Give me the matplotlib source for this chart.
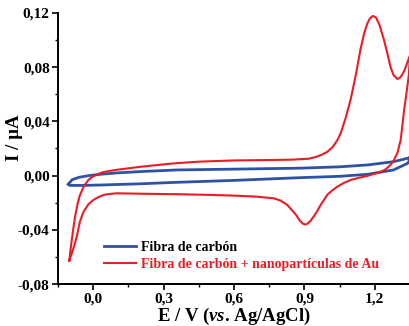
import numpy as np
import matplotlib
matplotlib.use("Agg")
import matplotlib.pyplot as plt
from matplotlib.ticker import MultipleLocator, FuncFormatter

plt.rcParams['font.family'] = ['Liberation Serif', 'DejaVu Serif']
plt.rcParams['font.weight'] = 'bold'
plt.rcParams['mathtext.fontset'] = 'custom'
plt.rcParams['mathtext.rm'] = 'Liberation Serif:bold'
plt.rcParams['mathtext.it'] = 'Liberation Serif:italic:bold'
plt.rcParams['mathtext.bf'] = 'Liberation Serif:bold'
plt.rcParams['mathtext.bfit'] = 'Liberation Serif:italic:bold'

# blue loop: bare carbon fibre
blue_x = [-0.106, -0.09, -0.06, -0.02, 0.03, 0.1, 0.2, 0.357, 0.6, 0.88, 1.05, 1.17, 1.28, 1.34, 1.36,
          1.34, 1.28, 1.17, 1.05, 0.88, 0.6, 0.357, 0.2, 0.03, -0.05, -0.1, -0.106]
blue_y = [-0.0063, -0.003, -0.0012, 0.0, 0.001, 0.002, 0.003, 0.0042, 0.0048, 0.0055, 0.0065, 0.0079, 0.0103, 0.0128, 0.0145,
          0.0091, 0.0042, 0.001, -0.0005, -0.0015, -0.0035, -0.0049, -0.006, -0.0069, -0.0072, -0.0072, -0.0063]

# red loop: carbon fibre + Au nanoparticles (forward then reverse)
red_x = [-0.102, -0.097, -0.091, -0.084, -0.077, -0.068, -0.058, -0.041, -0.02, 0.0, 0.016, 0.04, 0.07, 0.10,
         0.2, 0.3, 0.357, 0.45, 0.6, 0.75, 0.85, 0.92, 0.95, 0.975, 0.997, 1.02, 1.04, 1.054, 1.075, 1.097,
         1.12, 1.139, 1.155, 1.168, 1.18, 1.192, 1.205, 1.22, 1.239, 1.255, 1.267, 1.28, 1.296, 1.31, 1.325,
         1.34, 1.358,
         1.35, 1.345, 1.339, 1.332, 1.324, 1.317, 1.31, 1.296, 1.28, 1.267, 1.245, 1.225, 1.195, 1.168, 1.13,
         1.097, 1.07, 1.04, 1.018, 0.997, 0.983, 0.969, 0.955, 0.94, 0.925, 0.912, 0.902, 0.892, 0.88, 0.865,
         0.85, 0.827, 0.8, 0.77, 0.7, 0.6, 0.5, 0.371, 0.2, 0.1, 0.07, 0.044, 0.02, 0.0, -0.02, -0.041,
         -0.057, -0.07, -0.085, -0.102]
red_y = [-0.0626, -0.055, -0.047, -0.038, -0.030, -0.022, -0.015, -0.0081, -0.003, -0.0005, 0.0008, 0.0025, 0.0035, 0.0043,
         0.0065, 0.0083, 0.0092, 0.0103, 0.0112, 0.0115, 0.0118, 0.0125, 0.0138, 0.0155, 0.0175, 0.021, 0.026, 0.031, 0.042, 0.056,
         0.075, 0.093, 0.105, 0.112, 0.116, 0.1176, 0.1165, 0.111, 0.100, 0.089, 0.080, 0.074, 0.0712, 0.0725, 0.077,
         0.084, 0.092,
         0.082, 0.074, 0.066, 0.057, 0.047, 0.036, 0.026, 0.0165, 0.011, 0.0079, 0.0045, 0.0029, 0.0012, -0.0002, -0.0017,
         -0.0032, -0.0052, -0.0081, -0.011, -0.0142, -0.018, -0.0216, -0.026, -0.030, -0.0335, -0.0355, -0.036, -0.0352, -0.033, -0.029,
         -0.026, -0.0216, -0.0185, -0.0167, -0.0155, -0.0147, -0.0142, -0.0137, -0.0133, -0.013, -0.0135, -0.0142, -0.016, -0.018, -0.021, -0.0265,
         -0.034, -0.045, -0.054, -0.0626]

labels = ['Fibra de carbón', 'Fibra de carbón + nanopartículas de Au']
blue = '#3052A4'
red = '#EC1C24'

fig = plt.figure(figsize=(4.10, 3.26), dpi=100)
ax = fig.add_axes([0.1415, 0.128, 0.8585, 0.833])

ax.plot(blue_x, blue_y, color=blue, lw=2.0, label=labels[0], solid_joinstyle='round')
ax.plot(red_x, red_y, color=red, lw=1.5, label=labels[1], solid_joinstyle='round')

ax.set_xlim(-0.15, 1.35)
ax.set_ylim(-0.08, 0.12)
ax.xaxis.set_major_locator(MultipleLocator(0.3))
ax.xaxis.set_minor_locator(MultipleLocator(0.15))
ax.yaxis.set_major_locator(MultipleLocator(0.04))
ax.yaxis.set_minor_locator(MultipleLocator(0.02))
ax.xaxis.set_major_formatter(FuncFormatter(lambda v, p: ('%.1f' % v).replace('.', ',').replace('-0,0', '0,0')))
ax.yaxis.set_major_formatter(FuncFormatter(lambda v, p: ('%.2f' % v).replace('.', ',').replace('-0,00', '0,00')))

for s in ['top', 'right']:
    ax.spines[s].set_visible(False)
for s in ['left', 'bottom']:
    ax.spines[s].set_linewidth(1.4)
ax.tick_params(which='major', direction='out', length=4, width=1.2, labelsize=11, pad=2)
ax.tick_params(which='minor', direction='out', length=2, width=1.0)
for t in ax.get_xticklabels() + ax.get_yticklabels():
    t.set_fontweight('bold')

ax.set_xlabel('E / V ($\\mathit{vs}$. Ag/AgCl)', fontsize=13.5, fontweight='bold', labelpad=0)
ax.set_ylabel('I / µA', fontsize=13.5, fontweight='bold', labelpad=3)
ax.yaxis.set_label_coords(-0.10, 0.54)

leg = ax.legend(loc='lower left', bbox_to_anchor=(0.13, 0.05), frameon=False, fontsize=10,
                handlelength=2.3, handletextpad=0.35, labelspacing=0.25, borderpad=0, borderaxespad=0)
leg.get_texts()[0].set_color('black')
leg.get_texts()[1].set_color(red)
for t in leg.get_texts():
    t.set_fontweight('bold')

fig.savefig('out.png', dpi=100)
